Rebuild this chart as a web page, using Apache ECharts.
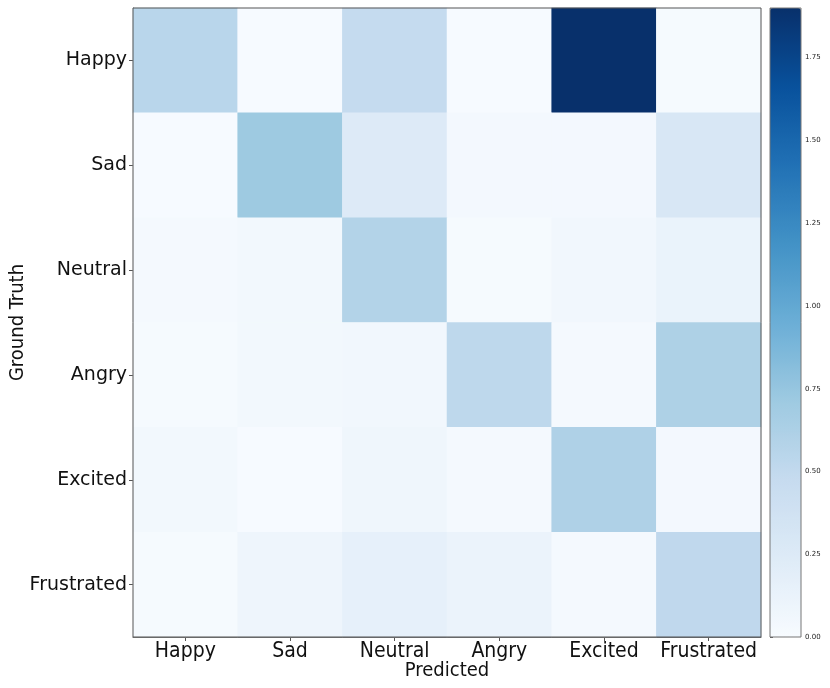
<!DOCTYPE html>
<html><head><meta charset="utf-8">
<script src="https://cdn.jsdelivr.net/npm/echarts@6/dist/echarts.min.js"></script>
<style>html,body{margin:0;padding:0;background:#fff}#c{width:830px;height:688px}</style>
</head><body><div id="c"></div>
<script>
var predicted = ['Happy','Sad','Neutral','Angry','Excited','Frustrated'];
var groundTruth = ['Happy','Sad','Neutral','Angry','Excited','Frustrated'];
var rowHappy      = [0.55, 0.01, 0.48, 0.01, 1.90, 0.02];
var rowSad        = [0.01, 0.71, 0.25, 0.04, 0.04, 0.30];
var rowNeutral    = [0.03, 0.05, 0.59, 0.02, 0.06, 0.12];
var rowAngry      = [0.02, 0.05, 0.06, 0.52, 0.03, 0.62];
var rowExcited    = [0.05, 0.01, 0.08, 0.03, 0.61, 0.04];
var rowFrustrated = [0.02, 0.085, 0.16, 0.115, 0.03, 0.51];
var colorbarTicks = [0, 0.25, 0.5, 0.75, 1.0, 1.25, 1.5, 1.75];
var vmin = 0, vmax = 1.9;

var rows = [rowHappy, rowSad, rowNeutral, rowAngry, rowExcited, rowFrustrated];
var data = [];
rows.forEach(function(r, i){ r.forEach(function(v, j){ data.push([j, i, v]); }); });

var blues = ['#f7fbff','#deebf7','#c6dbef','#9ecae1','#6baed6','#4292c6','#2171b5','#08519c','#08306b'];
var condensed = '"DejaVu Sans Condensed","Liberation Sans Narrow","DejaVu Sans",sans-serif';

var chart = echarts.init(document.getElementById('c'), null, {renderer:'canvas'});
chart.setOption({
  animation: false,
  grid: [
    {left:133, top:8, width:628, height:629, containLabel:false, outerBoundsMode:'none', show:true, borderColor:'#555', borderWidth:1, backgroundColor:'transparent', z:5},
    {left:770, top:8, width:31, height:629, containLabel:false, outerBoundsMode:'none', show:true, borderColor:'#777', borderWidth:1, backgroundColor:'transparent', z:5}
  ],
  xAxis: [
    {type:'category', gridIndex:0, data:predicted, position:'bottom',
     name:'Predicted', nameLocation:'middle', nameGap:24, nameMoveOverlap:false,
     nameTextStyle:{fontSize:20, fontFamily:condensed, color:'#111'},
     axisLine:{show:true, lineStyle:{color:'#555'}},
     axisTick:{show:true, alignWithLabel:true, length:4, lineStyle:{color:'#555'}},
     axisLabel:{fontSize:21, interval:0, hideOverlap:false, fontFamily:condensed, color:'#111', margin:4},
     splitLine:{show:false}},
    {type:'value', gridIndex:1, show:false, min:0, max:1}
  ],
  yAxis: [
    {type:'category', gridIndex:0, data:groundTruth, inverse:true,
     name:'Ground Truth', nameLocation:'middle', nameGap:105, nameRotate:90, nameMoveOverlap:false,
     nameTextStyle:{fontSize:20, fontFamily:condensed, color:'#111'},
     axisLine:{show:true, lineStyle:{color:'#555'}},
     axisTick:{show:true, alignWithLabel:true, length:4, lineStyle:{color:'#555'}},
     axisLabel:{fontSize:19, interval:0, fontFamily:'"DejaVu Sans",sans-serif', color:'#111', margin:6, padding:[6,0,0,0]},
     splitLine:{show:false}},
    {type:'value', gridIndex:1, position:'right', min:vmin, max:vmax, interval:0.25,
     axisLine:{show:false}, splitLine:{show:false},
     axisTick:{show:true, length:3, lineStyle:{color:'#555'}},
     axisLabel:{fontSize:7, fontFamily:'"DejaVu Sans",sans-serif', color:'#222', margin:4,
       formatter:function(v){ return colorbarTicks.indexOf(+v.toFixed(2))>=0 ? v.toFixed(2) : ''; }}}
  ],
  visualMap: {
    type:'continuous', min:vmin, max:vmax, calculable:false, orient:'vertical',
    left:770, top:8, itemWidth:31, itemHeight:629, padding:0, text:null, showLabel:false,
    textStyle:{fontSize:0}, inRange:{color:blues}, seriesIndex:0, hoverLink:false
  },
  series: [
    {type:'heatmap', xAxisIndex:0, yAxisIndex:0, data:data, itemStyle:{borderWidth:0}, emphasis:{disabled:true}}
  ]
});
</script></body></html>
